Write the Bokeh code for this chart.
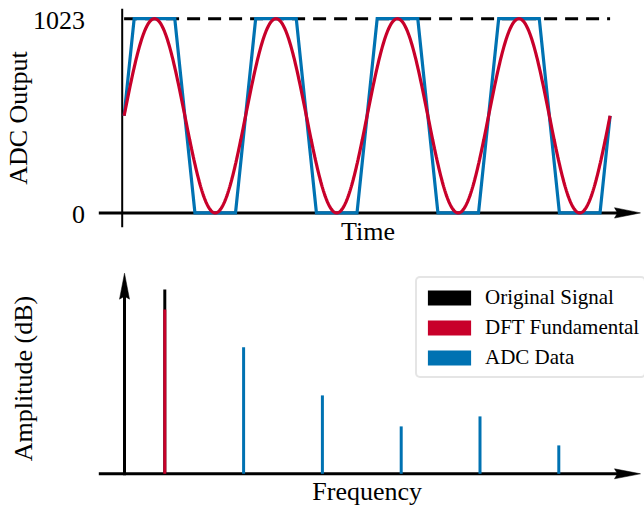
import numpy as np
from bokeh.plotting import figure
from bokeh.layouts import column
from bokeh.models import Range1d, Legend, LegendItem
from bokeh.embed import file_html
from bokeh.resources import INLINE
from bokeh.core.properties import value

# ---------------- data ----------------
# top panel: ADC output vs time (time in periods of the input sine)
n_cycles = 4
adc_min, adc_max = 0, 1023
ytick_values = [0, 1023]
ytick_labels = ["0", "1023"]
# clipped ADC output corner points
adc_time = [0.0, 0.083, 0.417, 0.583, 0.917, 1.083, 1.417, 1.583, 1.917,
            2.083, 2.417, 2.583, 2.917, 3.083, 3.417, 3.583, 3.917, 4.0]
adc_code = [511.5, 1023, 1023, 0, 0, 1023, 1023, 0, 0,
            1023, 1023, 0, 0, 1023, 1023, 0, 0, 511.5]

# bottom panel: spectrum (relative dB above floor), frequency in multiples of f0
fund_freq = [1]
original_amp = [92.2]
fundamental_amp = [82.2]
harm_freq = [3, 5, 7, 9, 11]
harm_amp = [63.3, 39.2, 23.7, 28.7, 14.2]
legend_labels = ["Original Signal", "DFT Fundamental", "ADC Data"]

# ---------------- style / layout ----------------
RED = "#C8002A"
BLUE = "#0072B2"
BLACK = "#000000"
FONT = "Liberation Serif"
W, H1, H2 = 644, 253, 254
MID = 0.3375 * 26  # baseline -> em-middle distance for 26px text
LW = 3.2

# top panel pixel geometry (page px)
T_X0, T_PX = 123.6, 121.5          # x of t=0, px per period
C_Y0, C_PX = 212.4, 194.2 / 1023   # y of code 0, px per code


def tx(ix):
    return (ix - T_X0) / T_PX


def ty(iy):
    return (C_Y0 - iy) / C_PX


top = figure(width=W, height=H1, output_backend="svg", toolbar_location=None,
             x_range=Range1d(tx(0), tx(W)),
             y_range=Range1d(ty(H1), ty(0)),
             x_axis_type=None, y_axis_type=None, min_border=0,
             outline_line_color=None)

# axes
top.segment(x0=[tx(121.7)], y0=[ty(226.7)], x1=[tx(121.7)], y1=[ty(8.3)],
            line_width=2, line_color=BLACK)
top.segment(x0=[tx(98.3)], y0=[adc_min], x1=[tx(618)], y1=[adc_min],
            line_width=3, line_color=BLACK)
top.patch(x=[tx(640), tx(614), tx(617), tx(614)],
          y=[adc_min, adc_min + 5.2 / C_PX, adc_min, adc_min - 5.2 / C_PX],
          fill_color=BLACK, line_color=BLACK, line_width=0.5)
# full-scale dashed line
top.line(x=[0, n_cycles], y=[adc_max, adc_max], line_width=3,
         line_color=BLACK, line_dash="13 8")
# ADC data
top.line(x=adc_time, y=adc_code, line_width=LW, line_color=BLUE, line_join="miter")
# ideal input sine
t = np.linspace(0, n_cycles, 801)
sig = adc_max / 2 * (1 + np.sin(2 * np.pi * t))
top.line(x=t, y=sig, line_width=LW, line_color=RED)

# texts
top.text(x=[tx(84.5)] * len(ytick_values), y=ytick_values, text=ytick_labels,
         text_align="right", text_baseline="middle", y_offset=2,
         text_font=value(FONT), text_font_size="26px", text_color=BLACK)
top.text(x=[tx(27 - MID)], y=[ty(117.5)], text=["ADC Output"], angle=np.pi / 2,
         text_align="center", text_baseline="middle",
         text_font=value(FONT), text_font_size="26px", text_color=BLACK)
top.text(x=[tx(367.5)], y=[ty(240 - MID)], text=["Time"],
         text_align="center", text_baseline="middle",
         text_font=value(FONT), text_font_size="26px", text_color=BLACK)

# bottom panel pixel geometry (page px)
F_X0, F_PX = 124.9, 39.4
A_Y0, A_PX = 473.3, 2.0
Y_TOP = H1


def fx(ix):
    return (ix - F_X0) / F_PX


def ay(iy):
    return (A_Y0 - iy) / A_PX


bot = figure(width=W, height=H2, output_backend="svg", toolbar_location=None,
             x_range=Range1d(fx(0), fx(W)),
             y_range=Range1d(ay(Y_TOP + H2), ay(Y_TOP)),
             x_axis_type=None, y_axis_type=None, min_border=0,
             outline_line_color=None)

# axes
TIP = 272.7
bot.segment(x0=[fx(124)], y0=[ay(A_Y0 + 1.5)], x1=[fx(124)], y1=[ay(TIP + 22)],
            line_width=3, line_color=BLACK)
bot.patch(x=[fx(124), fx(124 + 5), fx(124), fx(124 - 5)],
          y=[ay(TIP), ay(TIP + 26), ay(TIP + 23), ay(TIP + 26)],
          fill_color=BLACK, line_color=BLACK, line_width=0.5)
bot.segment(x0=[fx(98.3)], y0=[0], x1=[fx(618)], y1=[0], line_width=3, line_color=BLACK)
bot.patch(x=[fx(640), fx(614), fx(617), fx(614)],
          y=[0, 5 / A_PX, 0, -5 / A_PX],
          fill_color=BLACK, line_color=BLACK, line_width=0.5)

STEM_W = 3 / F_PX
r_orig = bot.vbar(x=fund_freq, top=original_amp, width=STEM_W, fill_color=BLACK, line_color=None)
r_fund = bot.vbar(x=fund_freq, top=fundamental_amp, width=STEM_W, fill_color=RED, line_color=None)
r_adc = bot.vbar(x=harm_freq, top=harm_amp, width=STEM_W, fill_color=BLUE, line_color=None)

legend = Legend(items=[LegendItem(label=legend_labels[0], renderers=[r_orig]),
                       LegendItem(label=legend_labels[1], renderers=[r_fund]),
                       LegendItem(label=legend_labels[2], renderers=[r_adc])],
                location=(415, (Y_TOP + H2) - 378),
                glyph_width=54, glyph_height=19, label_height=28,
                spacing=2, padding=5, label_standoff=9,
                label_text_font=FONT, label_text_font_size="21px",
                label_text_color=BLACK,
                border_line_color="#CCCCCC", border_line_width=2,
                background_fill_color="white", background_fill_alpha=1.0)
if "border_radius" in Legend.properties():
    legend.border_radius = 5
bot.add_layout(legend)

bot.text(x=[fx(32 - MID)], y=[ay(378)], text=["Amplitude (dB)"], angle=np.pi / 2,
         text_align="center", text_baseline="middle",
         text_font=value(FONT), text_font_size="26px", text_color=BLACK)
bot.text(x=[fx(366.7)], y=[ay(500 - MID)], text=["Frequency"],
         text_align="center", text_baseline="middle",
         text_font=value(FONT), text_font_size="26px", text_color=BLACK)

layout = column(top, bot, spacing=0)
open("out.html", "w").write(file_html(layout, INLINE))
